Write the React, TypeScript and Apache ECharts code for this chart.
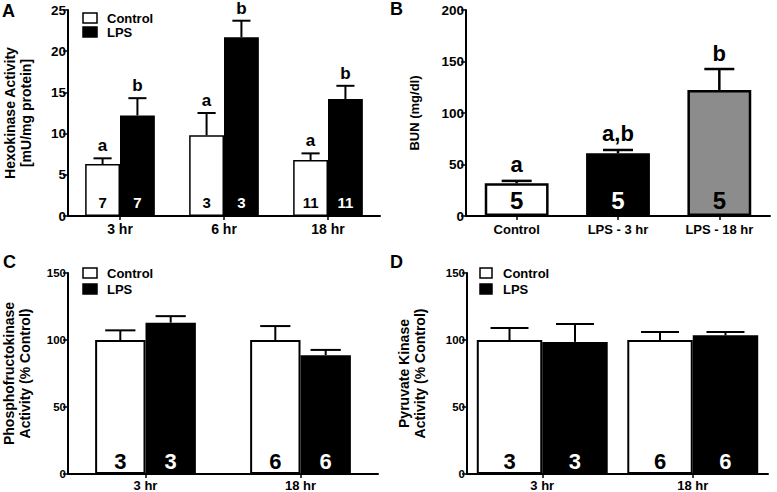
import React, { useEffect, useRef } from "react";
import * as echarts from "echarts";

const FONT = "Liberation Sans, Arial, Helvetica, sans-serif";

// ---------- Panel A: Hexokinase ----------
const hkCategories = ["3 hr", "6 hr", "18 hr"];
const hkControl = [6.3, 9.8, 6.8];
const hkControlErr = [0.7, 2.7, 0.8];
const hkLPS = [12.2, 21.7, 14.2];
const hkLPSErr = [2.1, 2.0, 1.6];
const hkControlN = [7, 3, 11];
const hkLPSN = [7, 3, 11];
const hkControlLetters = ["a", "a", "a"];
const hkLPSLetters = ["b", "b", "b"];

// ---------- Panel B: BUN ----------
const bunCategories = ["Control", "LPS - 3 hr", "LPS - 18 hr"];
const bunValues = [31.7, 60.9, 122.3];
const bunErr = [2.4, 3.2, 20.4];
const bunN = [5, 5, 5];
const bunLetters = ["a", "a,b", "b"];
const bunColors = ["#ffffff", "#000000", "#8c8c8c"];
const bunLabelColors = ["#000000", "#ffffff", "#000000"];

// ---------- Panel C: Phosphofructokinase ----------
const pfkCategories = ["3 hr", "18 hr"];
const pfkControl = [100, 100];
const pfkControlErr = [7.2, 10.4];
const pfkLPS = [112.9, 88.7];
const pfkLPSErr = [4.9, 3.9];
const pfkControlN = [3, 6];
const pfkLPSN = [3, 6];

// ---------- Panel D: Pyruvate kinase ----------
const pkCategories = ["3 hr", "18 hr"];
const pkControl = [100, 100];
const pkControlErr = [8.9, 6.0];
const pkLPS = [98.6, 103.5];
const pkLPSErr = [13.3, 2.5];
const pkControlN = [3, 6];
const pkLPSN = [3, 6];

const legendNames = ["Control", "LPS"];

function errorSeries(
  idx: number,
  values: number[],
  errs: number[],
  slot: number,
  nSlots: number,
  gap: number,
  capFrac: number,
  lw: number,
  letters: string[] | null,
  letterSize: number,
  letterGap: number
) {
  const data = values.map((v, i) => [i, v, errs[i]]);
  return {
    type: "custom",
    xAxisIndex: idx,
    yAxisIndex: idx,
    z: 5,
    silent: true,
    clip: false,
    data,
    renderItem: (params: any, api: any) => {
      const cat = api.value(0);
      const v = api.value(1);
      const e = api.value(2);
      const band = api.size([1, 0])[0];
      const barW = (band * (1 - gap)) / nSlots;
      const p0 = api.coord([cat, v]);
      const p1 = api.coord([cat, v + e]);
      const x = p0[0] + (slot - (nSlots - 1) / 2) * barW;
      const cap = (barW * capFrac) / 2;
      const children: any[] = [
        {
          type: "line",
          shape: { x1: x, y1: p0[1], x2: x, y2: p1[1] },
          style: { stroke: "#000", lineWidth: lw },
        },
        {
          type: "line",
          shape: { x1: x - cap, y1: p1[1], x2: x + cap, y2: p1[1] },
          style: { stroke: "#000", lineWidth: lw },
        },
      ];
      const letter = letters ? letters[params.dataIndex] : "";
      if (letter) {
        children.push({
          type: "text",
          style: {
            text: letter,
            x,
            y: p1[1] - letterGap,
            align: "center",
            verticalAlign: "bottom",
            fontSize: letterSize,
            fontWeight: "bold",
            fontFamily: FONT,
            fill: "#000",
          },
        });
      }
      return { type: "group", children };
    },
  };
}

function barSeries(
  name: string,
  idx: number,
  values: number[],
  ns: number[],
  fill: string,
  labelColor: string,
  gap: string,
  bw: number,
  fontSize: number,
  dist: number
) {
  return {
    name,
    type: "bar",
    xAxisIndex: idx,
    yAxisIndex: idx,
    data: values,
    barGap: "0%",
    barCategoryGap: gap,
    itemStyle: { color: fill, borderColor: "#000", borderWidth: bw },
    label: {
      show: true,
      position: "insideBottom",
      distance: dist,
      formatter: (p: any) => String(ns[p.dataIndex]),
      color: labelColor,
      fontSize,
      fontWeight: "bold",
      fontFamily: FONT,
    },
    silent: true,
  };
}

function yAxis(idx: number, max: number, interval: number, name: string, gap: number, tickSize: number, nameSize: number) {
  return {
    type: "value",
    gridIndex: idx,
    min: 0,
    max,
    interval,
    name,
    nameLocation: "middle",
    nameGap: gap,
    nameTextStyle: {
      fontSize: nameSize,
      fontWeight: "bold",
      fontFamily: FONT,
      color: "#000",
      lineHeight: 16,
    },
    splitLine: { show: false },
    axisLine: { show: true, lineStyle: { color: "#000", width: 2 } },
    axisTick: { show: true, length: 5, lineStyle: { color: "#000", width: 1.5 } },
    axisLabel: {
      color: "#000",
      fontSize: tickSize,
      fontWeight: "bold",
      fontFamily: FONT,
      margin: 2,
    },
  };
}

function xAxis(idx: number, cats: string[], size: number, margin: number) {
  return {
    type: "category",
    gridIndex: idx,
    data: cats,
    axisLine: { show: true, lineStyle: { color: "#000", width: 2 } },
    axisTick: { show: true, alignWithLabel: true, length: 4, lineStyle: { color: "#000", width: 1.5 } },
    axisLabel: {
      color: "#000",
      fontSize: size,
      fontWeight: "bold",
      fontFamily: FONT,
      margin,
      interval: 0,
    },
    splitLine: { show: false },
  };
}

function legendGraphic(x: number, yC: number, yL: number, boxW: number, textX: number) {
  const items: any[] = [];
  const fills = ["#fff", "#000"];
  [yC, yL].forEach((y, i) => {
    items.push({
      type: "rect",
      shape: { x, y: y - 5, width: boxW, height: 10 },
      style: { fill: fills[i], stroke: "#000", lineWidth: 1.5 },
    });
    items.push({
      type: "text",
      style: {
        text: legendNames[i],
        x: textX,
        y,
        verticalAlign: "middle",
        fontSize: 13,
        fontWeight: "bold",
        fontFamily: FONT,
        fill: "#000",
      },
    });
  });
  return items;
}

function panelLetter(t: string, x: number, y: number) {
  return {
    type: "text",
    style: {
      text: t,
      x,
      y,
      verticalAlign: "middle",
      fontSize: 18,
      fontWeight: "bold",
      fontFamily: FONT,
      fill: "#000",
    },
  };
}

export default function App() {
  const ref = useRef<HTMLDivElement>(null);
  useEffect(() => {
    if (!ref.current) return;
    const chart = echarts.init(ref.current, undefined, { renderer: "svg" });
    const gapA = 0.33;
    const gapB = 0.37;
    const gapC = 0.35;
    const gapD = 0.13;
    const option: any = {
      animation: false,
      backgroundColor: "#fff",
      textStyle: { fontFamily: FONT },
      grid: [
        { left: 68, top: 10, width: 312, height: 206 },
        { left: 466, top: 10, width: 304, height: 206 },
        { left: 68, top: 273, width: 310, height: 202.5 },
        { left: 467, top: 273, width: 301, height: 202.5 },
      ],
      xAxis: [
        xAxis(0, hkCategories, 14, 6),
        xAxis(1, bunCategories, 13, 7),
        xAxis(2, pfkCategories, 13, 5),
        xAxis(3, pkCategories, 13, 5),
      ],
      yAxis: [
        yAxis(0, 25, 5, "Hexokinase Activity\n[mU/mg protein]", 34, 13.5, 14),
        yAxis(1, 200, 50, "BUN (mg/dl)", 44, 13.5, 13),
        yAxis(2, 150, 50, "Phosphofructokinase\nActivity (% Control)", 35, 11.5, 14),
        yAxis(3, 150, 50, "Pyruvate Kinase\nActivity (% Control)", 39, 11.5, 14),
      ],
      series: [
        barSeries("Control", 0, hkControl, hkControlN, "#fff", "#000", "33%", 1.5, 15, 6),
        barSeries("LPS", 0, hkLPS, hkLPSN, "#000", "#fff", "33%", 1.5, 15, 6),
        errorSeries(0, hkControl, hkControlErr, 0, 2, gapA, 0.52, 2, hkControlLetters, 17, 4),
        errorSeries(0, hkLPS, hkLPSErr, 1, 2, gapA, 0.52, 2, hkLPSLetters, 17, 4),
        {
          name: "BUN",
          type: "bar",
          xAxisIndex: 1,
          yAxisIndex: 1,
          barCategoryGap: "37%",
          silent: true,
          data: bunValues.map((v, i) => ({
            value: v,
            itemStyle: { color: bunColors[i], borderColor: "#000", borderWidth: 2.5 },
            label: { color: bunLabelColors[i] },
          })),
          label: {
            show: true,
            position: "insideBottom",
            distance: 4,
            formatter: (p: any) => String(bunN[p.dataIndex]),
            fontSize: 24,
            fontWeight: "bold",
            fontFamily: FONT,
          },
        },
        errorSeries(1, bunValues, bunErr, 0, 1, gapB, 0.47, 2.5, bunLetters, 22, 5),
        barSeries("Control", 2, pfkControl, pfkControlN, "#fff", "#000", "35%", 2, 22, 2),
        barSeries("LPS", 2, pfkLPS, pfkLPSN, "#000", "#fff", "35%", 2, 22, 2),
        errorSeries(2, pfkControl, pfkControlErr, 0, 2, gapC, 0.6, 2, null, 0, 0),
        errorSeries(2, pfkLPS, pfkLPSErr, 1, 2, gapC, 0.6, 2, null, 0, 0),
        barSeries("Control", 3, pkControl, pkControlN, "#fff", "#000", "13%", 2, 22, 2),
        barSeries("LPS", 3, pkLPS, pkLPSN, "#000", "#fff", "13%", 2, 22, 2),
        errorSeries(3, pkControl, pkControlErr, 0, 2, gapD, 0.58, 2, null, 0, 0),
        errorSeries(3, pkLPS, pkLPSErr, 1, 2, gapD, 0.58, 2, null, 0, 0),
      ],
      graphic: [
        panelLetter("A", 2, 11),
        panelLetter("B", 390, 9),
        panelLetter("C", 3, 262),
        panelLetter("D", 390, 262),
        ...legendGraphic(83, 18, 32, 14, 107),
        ...legendGraphic(83, 273, 289, 14, 107),
        ...legendGraphic(480, 273, 289, 12, 503),
      ],
    };
    chart.setOption(option);
    return () => chart.dispose();
  }, []);
  return (
    <div
      ref={ref}
      style={{ position: "fixed", left: 0, top: 0, width: 777, height: 492, background: "#fff" }}
    />
  );
}
